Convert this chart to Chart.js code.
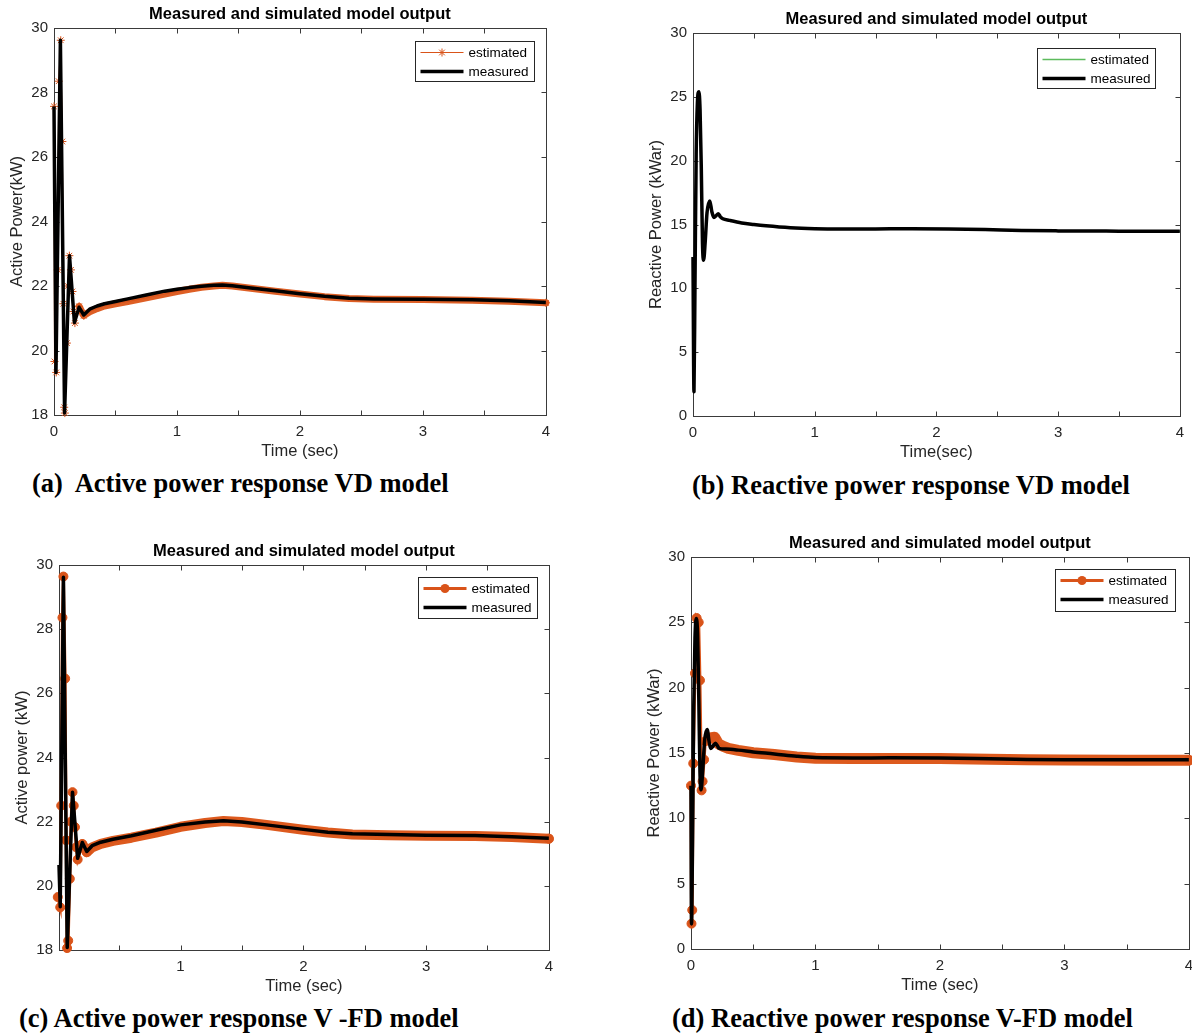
<!DOCTYPE html>
<html>
<head>
<meta charset="utf-8">
<script src="https://cdn.jsdelivr.net/npm/chart.js@4.4.1/dist/chart.umd.min.js"></script>
<style>
  html, body { margin: 0; padding: 0; background: #fff; overflow: hidden; }
  body { width: 1192px; height: 1035px; position: relative; }
  canvas { position: absolute; }
  .cap {
    position: absolute;
    font-family: "Liberation Serif", "Times New Roman", serif;
    font-weight: bold;
    font-size: 26.5px;
    line-height: 30px;
    white-space: pre;
    color: #000;
  }
</style>
</head>
<body>
<canvas id="chartA" width="558" height="461" style="left:0px;top:0px"></canvas>
<canvas id="chartB" width="553" height="457" style="left:639px;top:5px"></canvas>
<canvas id="chartC" width="556" height="459" style="left:5px;top:537px"></canvas>
<canvas id="chartD" width="564" height="466" style="left:637px;top:529px"></canvas>

<div class="cap" style="left:32px;top:468px">(a)  Active power response VD model</div>
<div class="cap" style="left:692px;top:470px">(b) Reactive power response VD model</div>
<div class="cap" style="left:19px;top:1003px">(c) Active power response V -FD model</div>
<div class="cap" style="left:672px;top:1003px">(d) Reactive power response V-FD model</div>

<script>
// ---- tick values ----
const xTicksFull = [0, 0.5, 1, 1.5, 2, 2.5, 3, 3.5, 4];
const xTicksC = [0.5, 1, 1.5, 2, 2.5, 3, 3.5, 4];
const yTicksActive = [18, 20, 22, 24, 26, 28, 30];
const yTicksReactive = [0, 5, 10, 15, 20, 25, 30];

// ---- (a) active power, VD model ----
const timeA = [0, 0.016, 0.052, 0.086, 0.126, 0.166, 0.204, 0.242, 0.29, 0.35, 0.41, 0.5, 0.6, 0.75, 0.9, 1.0, 1.1, 1.2, 1.3, 1.37, 1.45, 1.6, 1.8, 2.0, 2.2, 2.4, 2.6, 3.0, 3.4, 3.7, 4.0];
const measA = [27.57, 19.32, 29.62, 18.06, 22.94, 20.87, 21.34, 21.1, 21.28, 21.38, 21.45, 21.52, 21.6, 21.72, 21.84, 21.9, 21.95, 21.99, 22.02, 22.03, 22.01, 21.94, 21.85, 21.76, 21.68, 21.62, 21.6, 21.59, 21.57, 21.54, 21.49];
const timeAest = [0, 0.004, 0.018, 0.03, 0.038, 0.055, 0.068, 0.076, 0.083, 0.088, 0.105, 0.112, 0.125, 0.138, 0.15, 0.158, 0.17, 0.204, 0.242, 0.29, 0.35, 0.41, 0.5, 0.6, 0.75, 0.9, 1.0, 1.1, 1.2, 1.3, 1.37, 1.45, 1.6, 1.8, 2.0, 2.2, 2.4, 2.6, 3.0, 3.4, 3.7, 4.0];
const estA = [27.57, 19.66, 19.32, 22.5, 28.35, 29.62, 26.48, 21.45, 18.24, 18.06, 20.23, 22.0, 22.94, 22.5, 21.83, 21.21, 20.85, 21.37, 21.08, 21.2, 21.3, 21.38, 21.45, 21.52, 21.63, 21.75, 21.83, 21.9, 21.96, 22.0, 22.02, 22.0, 21.93, 21.84, 21.75, 21.67, 21.61, 21.59, 21.58, 21.56, 21.53, 21.48];

// ---- (b) reactive power, VD model (estimated lies under measured) ----
const timeB = [0, 0.008, 0.016, 0.026, 0.036, 0.048, 0.058, 0.068, 0.078, 0.087, 0.1, 0.115, 0.138, 0.155, 0.172, 0.19, 0.208, 0.225, 0.245, 0.3, 0.4, 0.5, 0.6, 0.8, 1.0, 1.2, 1.5, 1.8, 2.1, 2.4, 2.7, 3.0, 3.5, 4.0];
const measB = [12.45, 1.9, 10.0, 20.5, 24.5, 25.4, 24.0, 19.5, 13.5, 12.2, 13.6, 15.9, 16.85, 16.0, 15.55, 15.7, 15.85, 15.6, 15.45, 15.32, 15.12, 15.0, 14.9, 14.75, 14.67, 14.64, 14.65, 14.67, 14.65, 14.6, 14.53, 14.5, 14.48, 14.47];
const estB = measB;

// ---- (c) active power, V-FD model ----
const timeC = [0.01, 0.02, 0.046, 0.077, 0.12, 0.162, 0.2, 0.236, 0.28, 0.35, 0.45, 0.6, 0.8, 1.0, 1.2, 1.35, 1.5, 1.7, 2.0, 2.2, 2.4, 2.7, 3.0, 3.4, 3.7, 4.0];
const measC = [20.65, 19.35, 29.62, 18.08, 22.92, 20.86, 21.35, 21.07, 21.25, 21.36, 21.45, 21.56, 21.73, 21.9, 21.99, 22.03, 21.99, 21.9, 21.76, 21.67, 21.62, 21.6, 21.58, 21.57, 21.53, 21.48];
const timeCest = [0, 0.02, 0.028, 0.038, 0.046, 0.06, 0.068, 0.076, 0.085, 0.098, 0.108, 0.12, 0.13, 0.14, 0.15, 0.162, 0.2, 0.236, 0.28, 0.35, 0.45, 0.6, 0.8, 1.0, 1.2, 1.35, 1.5, 1.7, 2.0, 2.2, 2.4, 2.7, 3.0, 3.4, 3.7, 4.0];
const estC = [19.65, 19.33, 22.5, 28.36, 29.64, 26.46, 21.42, 18.06, 18.29, 20.22, 22.0, 22.92, 22.5, 21.83, 21.2, 20.82, 21.3, 21.05, 21.2, 21.31, 21.4, 21.5, 21.66, 21.84, 21.96, 22.02, 21.99, 21.9, 21.75, 21.66, 21.6, 21.58, 21.56, 21.55, 21.52, 21.47];

// ---- (d) reactive power, V-FD model ----
const timeD = [0, 0.004, 0.012, 0.022, 0.032, 0.043, 0.053, 0.063, 0.072, 0.081, 0.095, 0.11, 0.13, 0.145, 0.158, 0.175, 0.197, 0.212, 0.226, 0.28, 0.38, 0.5, 0.67, 0.85, 1.0, 1.3, 1.6, 2.0, 2.4, 2.7, 3.0, 3.5, 4.0];
const measD = [12.5, 1.92, 8.0, 18.5, 23.8, 25.3, 24.0, 19.0, 13.5, 12.18, 13.8, 16.0, 16.8, 15.9, 15.35, 15.5, 15.75, 15.55, 15.35, 15.3, 15.22, 15.08, 14.93, 14.75, 14.65, 14.62, 14.63, 14.62, 14.56, 14.51, 14.49, 14.48, 14.48];
const timeDest = [0, 0.004, 0.01, 0.018, 0.032, 0.045, 0.062, 0.072, 0.085, 0.093, 0.105, 0.115, 0.15, 0.19, 0.22, 0.26, 0.3, 0.38, 0.5, 0.67, 0.85, 1.0, 1.3, 1.6, 2.0, 2.4, 2.7, 3.0, 3.5, 4.0];
const estD = [12.5, 1.94, 2.98, 14.2, 21.1, 25.33, 25.0, 20.56, 12.14, 12.83, 14.49, 15.9, 16.15, 16.2, 15.7, 15.5, 15.35, 15.2, 15.02, 14.88, 14.7, 14.6, 14.57, 14.58, 14.57, 14.52, 14.48, 14.46, 14.45, 14.45];

const ORANGE = "#D95319";
const TEXT = "#262626";
const FONT = '"Liberation Sans", Arial, Helvetica, sans-serif';
Chart.defaults.font.family = FONT;

function xy(t, v) {
  return t.map((tt, i) => ({ x: tt, y: v[i] }));
}

function drawMarker(ctx, style, x, y, r, color) {
  ctx.save();
  ctx.strokeStyle = color;
  ctx.fillStyle = color;
  ctx.lineWidth = 1;
  if (style === "star") {
    ctx.beginPath();
    for (let k = 0; k < 4; k++) {
      const a = k * Math.PI / 4;
      ctx.moveTo(x - r * Math.cos(a), y - r * Math.sin(a));
      ctx.lineTo(x + r * Math.cos(a), y + r * Math.sin(a));
    }
    ctx.stroke();
  } else if (style === "circle") {
    ctx.beginPath();
    ctx.arc(x, y, r, 0, Math.PI * 2);
    ctx.fill();
  }
  ctx.restore();
}

// box around the axes with inward tick marks on all four sides (MATLAB look)
const axesBox = {
  id: "axesBox",
  beforeDatasetsDraw(chart) {
    const { ctx, chartArea: a, scales } = chart;
    const L = Math.round(a.left) + 0.5, R = Math.round(a.right) + 0.5;
    const T = Math.round(a.top) + 0.5, B = Math.round(a.bottom) + 0.5;
    ctx.save();
    ctx.strokeStyle = "#3a3a3a";
    ctx.lineWidth = 1;
    ctx.strokeRect(L, T, R - L, B - T);
    ctx.beginPath();
    scales.x.ticks.forEach(t => {
      const px = Math.round(scales.x.getPixelForValue(t.value)) + 0.5;
      ctx.moveTo(px, B); ctx.lineTo(px, B - 5);
      ctx.moveTo(px, T); ctx.lineTo(px, T + 5);
    });
    scales.y.ticks.forEach(t => {
      const py = Math.round(scales.y.getPixelForValue(t.value)) + 0.5;
      ctx.moveTo(L, py); ctx.lineTo(L + 5, py);
      ctx.moveTo(R, py); ctx.lineTo(R - 5, py);
    });
    ctx.stroke();
    ctx.restore();
  }
};

// title centred over the axes, not over the whole canvas
const axesTitle = {
  id: "axesTitle",
  afterDraw(chart, args, opts) {
    const { ctx, chartArea: a } = chart;
    ctx.save();
    ctx.fillStyle = "#000";
    ctx.font = "bold 16.5px " + FONT;
    ctx.textAlign = "center";
    ctx.textBaseline = "middle";
    ctx.fillText(opts.text, (a.left + a.right) / 2, a.top - 13.5);
    ctx.restore();
  }
};

// legend box inside the plot, top right
const boxLegend = {
  id: "boxLegend",
  afterDraw(chart, args, opts) {
    const { ctx, chartArea: a } = chart;
    const bx = Math.round(a.right - opts.right - opts.w) + 0.5;
    const by = Math.round(a.top + opts.top) + 0.5;
    ctx.save();
    ctx.fillStyle = "#fff";
    ctx.fillRect(bx, by, opts.w, opts.h);
    ctx.strokeStyle = TEXT;
    ctx.lineWidth = 1;
    ctx.strokeRect(bx, by, opts.w, opts.h);
    opts.items.forEach((it, i) => {
      const yy = by + (i === 0 ? 11 : 30);
      ctx.beginPath();
      ctx.strokeStyle = it.color;
      ctx.lineWidth = it.width;
      ctx.moveTo(bx + 5, yy);
      ctx.lineTo(bx + 48, yy);
      ctx.stroke();
      if (it.marker) drawMarker(ctx, it.marker, bx + 26.5, yy, it.r, it.color);
      ctx.fillStyle = "#000";
      ctx.font = "13.5px " + FONT;
      ctx.textBaseline = "middle";
      ctx.textAlign = "left";
      ctx.fillText(it.label, bx + 53, yy + 0.5);
    });
    ctx.restore();
  }
};

function makePanel(id, o) {
  const last = o.tEst.length - 1;
  const estPoints = xy(o.tEst, o.est);
  const datasets = [
    {
      label: "measured",
      data: xy(o.t, o.meas),
      borderColor: "#000",
      borderWidth: 3.5,
      pointRadius: 0,
      cubicInterpolationMode: o.smooth ? "monotone" : "default",
      borderJoinStyle: "round",
      clip: false
    },
    {
      label: "estimated",
      data: estPoints,
      borderColor: o.estColor,
      borderWidth: o.estWidth,
      pointStyle: o.marker || "circle",
      pointRadius: ctx => (o.marker && ctx.raw && (ctx.raw.x <= o.markUntil || ctx.dataIndex === last)) ? o.markR : 0,
      pointBorderColor: o.estColor,
      pointBackgroundColor: o.estColor,
      pointBorderWidth: 1,
      cubicInterpolationMode: o.smooth && !o.marker ? "monotone" : "default",
      clip: false
    }
  ];
  if (o.band) {
    datasets.push({
      label: "band",
      data: estPoints.filter(p => p.x >= o.bandFrom),
      borderColor: o.bandColor,
      borderWidth: o.band,
      borderCapStyle: "round",
      borderJoinStyle: "round",
      pointRadius: 0,
      clip: false
    });
  }

  return new Chart(document.getElementById(id), {
    type: "line",
    data: { datasets },
    plugins: [axesBox, axesTitle, boxLegend],
    options: {
      responsive: false,
      animation: false,
      events: [],
      layout: { padding: { left: 0, right: 12, top: 28, bottom: 0 } },
      plugins: {
        legend: { display: false },
        tooltip: { enabled: false },
        title: { display: false },
        axesTitle: { text: "Measured and simulated model output" },
        boxLegend: o.legend
      },
      scales: {
        x: {
          type: "linear",
          min: o.xMin,
          max: 4,
          afterBuildTicks: s => { s.ticks = o.xTicks.map(v => ({ value: v })); },
          afterFit: s => { s.height = 46; },
          grid: { display: false, drawTicks: false },
          border: { display: false },
          ticks: {
            padding: 8,
            color: TEXT,
            font: { size: 15 },
            maxRotation: 0,
            autoSkip: false,
            callback: v => Number.isInteger(v) ? String(v) : ""
          },
          title: {
            display: true,
            text: o.xTitle,
            color: TEXT,
            font: { size: 16.5 },
            padding: { top: 0, bottom: 0 }
          }
        },
        y: {
          type: "linear",
          min: o.yTicks[0],
          max: o.yTicks[o.yTicks.length - 1],
          afterBuildTicks: s => { s.ticks = o.yTicks.map(v => ({ value: v })); },
          afterFit: s => { s.width = 54; },
          grid: { display: false, drawTicks: false },
          border: { display: false },
          ticks: { padding: 6, color: TEXT, font: { size: 15 } },
          title: {
            display: true,
            text: o.yTitle,
            color: TEXT,
            font: { size: 16.5 },
            padding: { top: 8, bottom: 0 }
          }
        }
      }
    }
  });
}

const legendOrange = (marker, r, width) => [
  { label: "estimated", color: ORANGE, width: width, marker: marker, r: r },
  { label: "measured", color: "#000", width: 3.5 }
];

makePanel("chartA", {
  t: timeA, meas: measA, tEst: timeAest, est: estA,
  estColor: ORANGE, estWidth: 1, marker: "star", markR: 4, markUntil: 0.25,
  band: 7, bandFrom: 0.2, bandColor: "#DE5F25",
  xMin: 0, xTicks: xTicksFull, yTicks: yTicksActive,
  xTitle: "Time (sec)", yTitle: "Active Power(kW)",
  legend: { right: 12, top: 13, w: 119, h: 40, items: legendOrange("star", 4, 1) }
});

makePanel("chartB", {
  t: timeB, meas: measB, tEst: timeB, est: estB, smooth: true,
  estColor: "#5DBB5D", estWidth: 1.5,
  xMin: 0, xTicks: xTicksFull, yTicks: yTicksReactive,
  xTitle: "Time(sec)", yTitle: "Reactive Power (kWar)",
  legend: { right: 25, top: 15, w: 118, h: 40, items: [
    { label: "estimated", color: "#5DBB5D", width: 1.5 },
    { label: "measured", color: "#000", width: 3.5 }
  ] }
});

makePanel("chartC", {
  t: timeC, meas: measC, tEst: timeCest, est: estC,
  estColor: ORANGE, estWidth: 3, marker: "circle", markR: 4.5, markUntil: 0.24,
  band: 10, bandFrom: 0.2, bandColor: "#DD5A1E",
  xMin: 0.01, xTicks: xTicksC, yTicks: yTicksActive,
  xTitle: "Time (sec)", yTitle: "Active power (kW)",
  legend: { right: 12, top: 12, w: 119, h: 41, items: legendOrange("circle", 4.5, 3) }
});

makePanel("chartD", {
  t: timeD, meas: measD, tEst: timeDest, est: estD, smooth: true,
  estColor: ORANGE, estWidth: 3, marker: "circle", markR: 4.5, markUntil: 0.2,
  band: 11, bandFrom: 0.15, bandColor: "#DD5A1E",
  xMin: 0, xTicks: xTicksFull, yTicks: yTicksReactive,
  xTitle: "Time (sec)", yTitle: "Reactive Power (kWar)",
  legend: { right: 14, top: 12, w: 120, h: 42, items: legendOrange("circle", 4.5, 3) }
});
</script>
</body>
</html>
